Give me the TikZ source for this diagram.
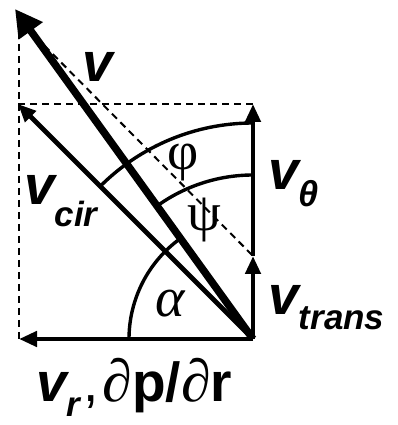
\documentclass[tikz,border=0pt]{standalone}
\usepackage{fontspec}
\setmainfont{Liberation Sans}
\newfontfamily\greekfont{Liberation Serif}
\usetikzlibrary{arrows.meta,positioning}
\newcommand{\vecsub}[2]{v\raisebox{-#1}{\fontsize{35}{38}\selectfont #2}}
\tikzset{
    vecmain/.style={line width=7.5pt, -{Triangle[length=27pt,width=28pt]}},
    vecpart/.style={line width=4.8pt, -{Triangle[length=18pt,width=15pt]}},
    helpline/.style={dash pattern=on 7pt off 5pt, line width=2pt},
    anglearc/.style={line width=3.4pt},
    veclabel/.style={font=\fontsize{55}{60}\selectfont\bfseries\itshape,
        inner sep=0pt, anchor=base west},
    anglelabel/.style={font=\fontsize{54}{58}\selectfont\greekfont, inner sep=0pt}
}

\begin{document}
\begin{tikzpicture}[x=1pt, y=1pt]
\useasboundingbox (0,0) rectangle (397,425);
\coordinate (origin) at (253,86);
\coordinate (vtip) at (15,416);
\coordinate (vcorner) at (19,405);
\coordinate (vcirtip) at (18,321);
\coordinate (vrtip) at (19,86);
\coordinate (vrfoot) at (19,86);
\coordinate (vthetatip) at (253,321);
\coordinate (vtranstip) at (253,169);
% angle arcs
\draw[anglearc] (origin) ++(180:124) arc[start angle=180, end angle=126, radius=124];
\draw[anglearc] (origin) ++(135:216) arc[start angle=135, end angle=90, radius=216];
\draw[anglearc] (origin) ++(126:164) arc[start angle=126, end angle=90, radius=164];
% construction lines
\draw[helpline] (vcorner) -- (vrfoot);
\draw[helpline] (vcirtip) -- (vthetatip);
\draw[helpline] (vcorner) -- (vtranstip);
% vectors
\draw[vecpart] (origin) -- (vrtip);
\draw[vecpart] (origin) -- (vtranstip);
\draw[vecpart] (vtranstip) -- (vthetatip);
\draw[vecpart] (origin) -- (vcirtip);
\draw[vecmain] (origin) -- (vtip);
% labels
\node[veclabel] (vlab) at (82,343) {v};
\node[veclabel] (vcirlab) at (24,220) {\vecsub{22pt}{cir}};
\node[veclabel] (vthetalab) at (268,235) {\vecsub{17pt}{\fontsize{36}{38}\selectfont θ}};
\node[veclabel] (vtranslab) at (268,110) {\vecsub{15pt}{trans}};
\node[veclabel] (vrlab) at (36,23) {\vecsub{14pt}{r}\hspace{3pt}\upshape\mdseries,\hspace{4pt}{\greekfont\fontsize{60}{62}\selectfont ∂}\bfseries p/{\greekfont\mdseries\fontsize{60}{62}\selectfont ∂}r};
\node[anglelabel] (philab) at (183,262) {φ};
\node[anglelabel] (psilab) at (204,205) {ψ};
\node[anglelabel, font=\fontsize{56}{58}\selectfont\greekfont\itshape] (alphalab) at (170,121) {α};
\end{tikzpicture}
\end{document}
